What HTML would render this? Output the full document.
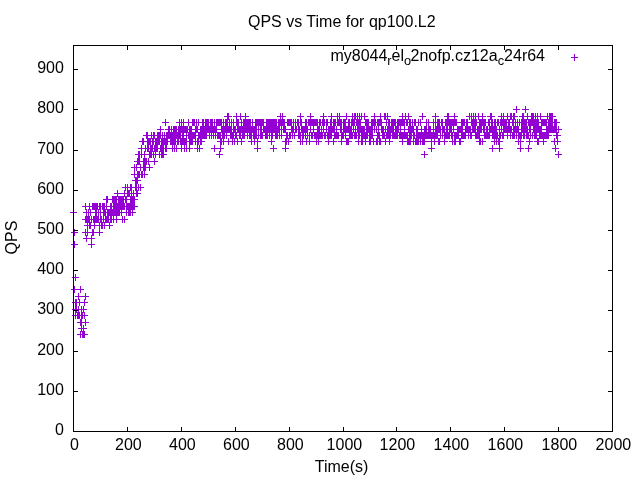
<!DOCTYPE html>
<html><head><meta charset="utf-8"><title>QPS vs Time for qp100.L2</title>
<style>
html,body{margin:0;padding:0;background:#fff;}
svg{display:block;font-family:"Liberation Sans",sans-serif;font-size:16px;fill:#000;will-change:transform;}
</style></head><body>
<svg width="640" height="480" viewBox="0 0 640 480">
<rect width="640" height="480" fill="#fff"/>
<text x="63.9" y="435.2" text-anchor="end">0</text>
<text x="63.9" y="395.2" text-anchor="end">100</text>
<text x="63.9" y="355.2" text-anchor="end">200</text>
<text x="63.9" y="314.2" text-anchor="end">300</text>
<text x="63.9" y="274.2" text-anchor="end">400</text>
<text x="63.9" y="234.2" text-anchor="end">500</text>
<text x="63.9" y="194.2" text-anchor="end">600</text>
<text x="63.9" y="154.2" text-anchor="end">700</text>
<text x="63.9" y="113.2" text-anchor="end">800</text>
<text x="63.9" y="73.2" text-anchor="end">900</text>
<text x="74.4" y="450" text-anchor="middle">0</text>
<text x="128.4" y="450" text-anchor="middle">200</text>
<text x="182.4" y="450" text-anchor="middle">400</text>
<text x="236.4" y="450" text-anchor="middle">600</text>
<text x="290.4" y="450" text-anchor="middle">800</text>
<text x="344.4" y="450" text-anchor="middle">1000</text>
<text x="397.4" y="450" text-anchor="middle">1200</text>
<text x="451.4" y="450" text-anchor="middle">1400</text>
<text x="505.4" y="450" text-anchor="middle">1600</text>
<text x="559.4" y="450" text-anchor="middle">1800</text>
<text x="613.4" y="450" text-anchor="middle">2000</text>
<text x="341.8" y="26.5" text-anchor="middle">QPS vs Time for qp100.L2</text>
<text x="341.6" y="472" text-anchor="middle">Time(s)</text>
<text transform="translate(17 237.6) rotate(-90)" text-anchor="middle">QPS</text>
<text x="545" y="61" text-anchor="end">my8044<tspan font-size="12.8" dy="3.8">r</tspan><tspan dy="-3.8">el</tspan><tspan font-size="12.8" dy="3.8">o</tspan><tspan dy="-3.8" dx="-0.7">2nofp.cz12a</tspan><tspan font-size="12.8" dy="3.8">c</tspan><tspan dy="-3.8">24r64</tspan></text>
<path id="pts" d="M73.5 209v7M70 212.5h7M74.5 229v7M71 232.5h7M74.5 241v7M71 244.5h7M74.5 286v7M71 289.5h7M75.5 274v7M72 277.5h7M75.5 299v7M72 302.5h7M75.5 306v7M72 309.5h7M75.5 312v7M72 315.5h7M76.5 299v7M73 302.5h7M76.5 306v7M73 309.5h7M77.5 312v7M74 315.5h7M78.5 293v7M75 296.5h7M78.5 306v7M75 309.5h7M78.5 312v7M75 315.5h7M79.5 299v7M76 302.5h7M79.5 312v7M76 315.5h7M80.5 286v7M77 289.5h7M80.5 319v7M77 322.5h7M80.5 331v7M77 334.5h7M81.5 306v7M78 309.5h7M81.5 312v7M78 315.5h7M81.5 319v7M78 322.5h7M81.5 325v7M78 328.5h7M82.5 312v7M79 315.5h7M82.5 331v7M79 334.5h7M83.5 306v7M80 309.5h7M83.5 325v7M80 328.5h7M83.5 331v7M80 334.5h7M84.5 299v7M81 302.5h7M84.5 312v7M81 315.5h7M84.5 331v7M81 334.5h7M85.5 203v7M82 206.5h7M85.5 216v7M82 219.5h7M85.5 229v7M82 232.5h7M85.5 293v7M82 296.5h7M85.5 319v7M82 322.5h7M86.5 209v7M83 212.5h7M86.5 216v7M83 219.5h7M86.5 235v7M83 238.5h7M87.5 216v7M84 219.5h7M87.5 222v7M84 225.5h7M87.5 229v7M84 232.5h7M88.5 209v7M85 212.5h7M88.5 216v7M85 219.5h7M89.5 203v7M86 206.5h7M89.5 216v7M86 219.5h7M89.5 222v7M86 225.5h7M90.5 209v7M87 212.5h7M90.5 222v7M87 225.5h7M91.5 216v7M88 219.5h7M91.5 235v7M88 238.5h7M91.5 241v7M88 244.5h7M92.5 203v7M89 206.5h7M92.5 229v7M89 232.5h7M93.5 203v7M90 206.5h7M93.5 216v7M90 219.5h7M93.5 229v7M90 232.5h7M94.5 203v7M91 206.5h7M94.5 216v7M91 219.5h7M94.5 222v7M91 225.5h7M95.5 203v7M92 206.5h7M95.5 209v7M92 212.5h7M95.5 216v7M92 219.5h7M96.5 203v7M93 206.5h7M96.5 209v7M93 212.5h7M96.5 216v7M93 219.5h7M97.5 203v7M94 206.5h7M97.5 216v7M94 219.5h7M98.5 209v7M95 212.5h7M98.5 216v7M95 219.5h7M99.5 203v7M96 206.5h7M99.5 222v7M96 225.5h7M99.5 229v7M96 232.5h7M100.5 203v7M97 206.5h7M100.5 209v7M97 212.5h7M100.5 216v7M97 219.5h7M101.5 216v7M98 219.5h7M101.5 222v7M98 225.5h7M102.5 203v7M99 206.5h7M102.5 222v7M99 225.5h7M103.5 203v7M100 206.5h7M103.5 209v7M100 212.5h7M103.5 216v7M100 219.5h7M104.5 203v7M101 206.5h7M104.5 209v7M101 212.5h7M104.5 222v7M101 225.5h7M105.5 209v7M102 212.5h7M105.5 216v7M102 219.5h7M106.5 196v7M103 199.5h7M106.5 203v7M103 206.5h7M106.5 216v7M103 219.5h7M107.5 196v7M104 199.5h7M107.5 209v7M104 212.5h7M107.5 216v7M104 219.5h7M108.5 209v7M105 212.5h7M108.5 216v7M105 219.5h7M109.5 209v7M106 212.5h7M109.5 222v7M106 225.5h7M110.5 203v7M107 206.5h7M110.5 209v7M107 212.5h7M110.5 216v7M107 219.5h7M111.5 203v7M108 206.5h7M111.5 209v7M108 212.5h7M111.5 216v7M108 219.5h7M112.5 196v7M109 199.5h7M112.5 209v7M109 212.5h7M113.5 196v7M110 199.5h7M113.5 203v7M110 206.5h7M113.5 209v7M110 212.5h7M113.5 216v7M110 219.5h7M114.5 196v7M111 199.5h7M114.5 203v7M111 206.5h7M114.5 209v7M111 212.5h7M115.5 196v7M112 199.5h7M115.5 203v7M112 206.5h7M115.5 209v7M112 212.5h7M116.5 196v7M113 199.5h7M116.5 203v7M113 206.5h7M116.5 209v7M113 212.5h7M116.5 216v7M113 219.5h7M117.5 190v7M114 193.5h7M117.5 203v7M114 206.5h7M117.5 209v7M114 212.5h7M118.5 196v7M115 199.5h7M118.5 203v7M115 206.5h7M118.5 209v7M115 212.5h7M119.5 196v7M116 199.5h7M119.5 203v7M116 206.5h7M119.5 209v7M116 212.5h7M120.5 196v7M117 199.5h7M120.5 203v7M117 206.5h7M121.5 196v7M118 199.5h7M121.5 203v7M118 206.5h7M121.5 209v7M118 212.5h7M122.5 196v7M119 199.5h7M122.5 203v7M119 206.5h7M122.5 216v7M119 219.5h7M123.5 196v7M120 199.5h7M123.5 203v7M120 206.5h7M124.5 190v7M121 193.5h7M124.5 203v7M121 206.5h7M124.5 216v7M121 219.5h7M125.5 184v7M122 187.5h7M125.5 196v7M122 199.5h7M126.5 196v7M123 199.5h7M126.5 203v7M123 206.5h7M126.5 209v7M123 212.5h7M127.5 184v7M124 187.5h7M127.5 190v7M124 193.5h7M127.5 203v7M124 206.5h7M128.5 190v7M125 193.5h7M128.5 203v7M125 206.5h7M128.5 209v7M125 212.5h7M129.5 190v7M126 193.5h7M129.5 203v7M126 206.5h7M129.5 209v7M126 212.5h7M130.5 184v7M127 187.5h7M130.5 196v7M127 199.5h7M130.5 203v7M127 206.5h7M130.5 209v7M127 212.5h7M131.5 184v7M128 187.5h7M131.5 190v7M128 193.5h7M131.5 196v7M128 199.5h7M131.5 203v7M128 206.5h7M132.5 196v7M129 199.5h7M132.5 203v7M129 206.5h7M132.5 209v7M129 212.5h7M133.5 190v7M130 193.5h7M133.5 196v7M130 199.5h7M133.5 203v7M130 206.5h7M134.5 164v7M131 167.5h7M134.5 171v7M131 174.5h7M134.5 196v7M131 199.5h7M134.5 203v7M131 206.5h7M135.5 177v7M132 180.5h7M135.5 184v7M132 187.5h7M136.5 164v7M133 167.5h7M136.5 177v7M133 180.5h7M136.5 184v7M133 187.5h7M136.5 190v7M133 193.5h7M137.5 158v7M134 161.5h7M137.5 171v7M134 174.5h7M137.5 177v7M134 180.5h7M137.5 190v7M134 193.5h7M138.5 151v7M135 154.5h7M138.5 158v7M135 161.5h7M138.5 171v7M135 174.5h7M138.5 184v7M135 187.5h7M139.5 151v7M136 154.5h7M139.5 158v7M136 161.5h7M139.5 171v7M136 174.5h7M140.5 164v7M137 167.5h7M140.5 184v7M137 187.5h7M141.5 145v7M138 148.5h7M141.5 151v7M138 154.5h7M141.5 171v7M138 174.5h7M142.5 138v7M139 141.5h7M142.5 171v7M139 174.5h7M143.5 138v7M140 141.5h7M143.5 158v7M140 161.5h7M143.5 164v7M140 167.5h7M144.5 151v7M141 154.5h7M144.5 158v7M141 161.5h7M144.5 164v7M141 167.5h7M144.5 171v7M141 174.5h7M145.5 145v7M142 148.5h7M145.5 158v7M142 161.5h7M145.5 164v7M142 167.5h7M146.5 132v7M143 135.5h7M146.5 158v7M143 161.5h7M147.5 132v7M144 135.5h7M147.5 138v7M144 141.5h7M147.5 145v7M144 148.5h7M148.5 138v7M145 141.5h7M148.5 145v7M145 148.5h7M148.5 158v7M145 161.5h7M149.5 138v7M146 141.5h7M149.5 151v7M146 154.5h7M149.5 164v7M146 167.5h7M150.5 138v7M147 141.5h7M150.5 145v7M147 148.5h7M150.5 151v7M147 154.5h7M151.5 132v7M148 135.5h7M151.5 145v7M148 148.5h7M151.5 151v7M148 154.5h7M152.5 138v7M149 141.5h7M152.5 145v7M149 148.5h7M153.5 132v7M150 135.5h7M153.5 138v7M150 141.5h7M153.5 151v7M150 154.5h7M154.5 132v7M151 135.5h7M154.5 145v7M151 148.5h7M154.5 158v7M151 161.5h7M155.5 138v7M152 141.5h7M155.5 145v7M152 148.5h7M155.5 151v7M152 154.5h7M156.5 138v7M153 141.5h7M156.5 145v7M153 148.5h7M157.5 132v7M154 135.5h7M157.5 138v7M154 141.5h7M157.5 145v7M154 148.5h7M158.5 132v7M155 135.5h7M158.5 138v7M155 141.5h7M159.5 132v7M156 135.5h7M159.5 138v7M156 141.5h7M159.5 151v7M156 154.5h7M160.5 126v7M157 129.5h7M160.5 132v7M157 135.5h7M160.5 145v7M157 148.5h7M161.5 138v7M158 141.5h7M161.5 145v7M158 148.5h7M161.5 151v7M158 154.5h7M162.5 132v7M159 135.5h7M162.5 138v7M159 141.5h7M162.5 145v7M159 148.5h7M162.5 151v7M159 154.5h7M163.5 138v7M160 141.5h7M163.5 145v7M160 148.5h7M163.5 151v7M160 154.5h7M164.5 132v7M161 135.5h7M164.5 138v7M161 141.5h7M165.5 119v7M162 122.5h7M165.5 138v7M162 141.5h7M165.5 145v7M162 148.5h7M166.5 132v7M163 135.5h7M166.5 138v7M163 141.5h7M166.5 145v7M163 148.5h7M167.5 132v7M164 135.5h7M167.5 138v7M164 141.5h7M168.5 126v7M165 129.5h7M168.5 132v7M165 135.5h7M169.5 126v7M166 129.5h7M169.5 132v7M166 135.5h7M170.5 132v7M167 135.5h7M170.5 138v7M167 141.5h7M171.5 126v7M168 129.5h7M171.5 132v7M168 135.5h7M171.5 138v7M168 141.5h7M172.5 132v7M169 135.5h7M172.5 138v7M169 141.5h7M172.5 145v7M169 148.5h7M173.5 126v7M170 129.5h7M173.5 132v7M170 135.5h7M173.5 138v7M170 141.5h7M174.5 126v7M171 129.5h7M174.5 132v7M171 135.5h7M174.5 138v7M171 141.5h7M174.5 145v7M171 148.5h7M175.5 126v7M172 129.5h7M175.5 132v7M172 135.5h7M175.5 138v7M172 141.5h7M176.5 126v7M173 129.5h7M176.5 132v7M173 135.5h7M176.5 145v7M173 148.5h7M177.5 132v7M174 135.5h7M177.5 138v7M174 141.5h7M178.5 126v7M175 129.5h7M178.5 132v7M175 135.5h7M178.5 138v7M175 141.5h7M179.5 119v7M176 122.5h7M179.5 126v7M176 129.5h7M179.5 132v7M176 135.5h7M180.5 126v7M177 129.5h7M180.5 132v7M177 135.5h7M180.5 138v7M177 141.5h7M181.5 119v7M178 122.5h7M181.5 126v7M178 129.5h7M181.5 138v7M178 141.5h7M181.5 145v7M178 148.5h7M182.5 126v7M179 129.5h7M182.5 132v7M179 135.5h7M182.5 138v7M179 141.5h7M183.5 119v7M180 122.5h7M183.5 126v7M180 129.5h7M183.5 132v7M180 135.5h7M183.5 138v7M180 141.5h7M184.5 126v7M181 129.5h7M184.5 138v7M181 141.5h7M184.5 145v7M181 148.5h7M185.5 126v7M182 129.5h7M185.5 138v7M182 141.5h7M186.5 126v7M183 129.5h7M186.5 132v7M183 135.5h7M186.5 138v7M183 141.5h7M186.5 145v7M183 148.5h7M187.5 126v7M184 129.5h7M188.5 119v7M185 122.5h7M188.5 132v7M185 135.5h7M189.5 126v7M186 129.5h7M189.5 132v7M186 135.5h7M189.5 138v7M186 141.5h7M189.5 145v7M186 148.5h7M190.5 126v7M187 129.5h7M190.5 132v7M187 135.5h7M190.5 138v7M187 141.5h7M191.5 126v7M188 129.5h7M191.5 132v7M188 135.5h7M191.5 138v7M188 141.5h7M192.5 119v7M189 122.5h7M192.5 132v7M189 135.5h7M192.5 138v7M189 141.5h7M193.5 119v7M190 122.5h7M193.5 132v7M190 135.5h7M194.5 119v7M191 122.5h7M194.5 132v7M191 135.5h7M195.5 126v7M192 129.5h7M195.5 132v7M192 135.5h7M195.5 138v7M192 141.5h7M196.5 119v7M193 122.5h7M196.5 126v7M193 129.5h7M197.5 126v7M194 129.5h7M197.5 138v7M194 141.5h7M197.5 145v7M194 148.5h7M198.5 119v7M195 122.5h7M198.5 132v7M195 135.5h7M198.5 138v7M195 141.5h7M199.5 132v7M196 135.5h7M199.5 145v7M196 148.5h7M200.5 126v7M197 129.5h7M200.5 132v7M197 135.5h7M200.5 138v7M197 141.5h7M201.5 126v7M198 129.5h7M201.5 132v7M198 135.5h7M201.5 138v7M198 141.5h7M202.5 119v7M199 122.5h7M202.5 126v7M199 129.5h7M202.5 132v7M199 135.5h7M203.5 119v7M200 122.5h7M203.5 126v7M200 129.5h7M203.5 132v7M200 135.5h7M204.5 126v7M201 129.5h7M204.5 132v7M201 135.5h7M205.5 119v7M202 122.5h7M205.5 126v7M202 129.5h7M205.5 132v7M202 135.5h7M206.5 119v7M203 122.5h7M206.5 126v7M203 129.5h7M206.5 132v7M203 135.5h7M207.5 119v7M204 122.5h7M207.5 126v7M204 129.5h7M208.5 119v7M205 122.5h7M208.5 126v7M205 129.5h7M209.5 126v7M206 129.5h7M209.5 132v7M206 135.5h7M210.5 119v7M207 122.5h7M210.5 126v7M207 129.5h7M211.5 119v7M208 122.5h7M211.5 126v7M208 129.5h7M211.5 132v7M208 135.5h7M212.5 119v7M209 122.5h7M212.5 126v7M209 129.5h7M213.5 126v7M210 129.5h7M213.5 132v7M210 135.5h7M214.5 119v7M211 122.5h7M214.5 126v7M211 129.5h7M214.5 145v7M211 148.5h7M215.5 126v7M212 129.5h7M215.5 132v7M212 135.5h7M216.5 119v7M213 122.5h7M216.5 126v7M213 129.5h7M217.5 119v7M214 122.5h7M217.5 132v7M214 135.5h7M218.5 119v7M215 122.5h7M218.5 132v7M215 135.5h7M219.5 119v7M216 122.5h7M219.5 132v7M216 135.5h7M219.5 151v7M216 154.5h7M220.5 119v7M217 122.5h7M220.5 132v7M217 135.5h7M220.5 138v7M217 141.5h7M220.5 145v7M217 148.5h7M221.5 119v7M218 122.5h7M221.5 126v7M218 129.5h7M221.5 138v7M218 141.5h7M222.5 126v7M219 129.5h7M222.5 132v7M219 135.5h7M223.5 119v7M220 122.5h7M223.5 126v7M220 129.5h7M223.5 132v7M220 135.5h7M223.5 138v7M220 141.5h7M224.5 126v7M221 129.5h7M224.5 132v7M221 135.5h7M225.5 119v7M222 122.5h7M225.5 126v7M222 129.5h7M226.5 119v7M223 122.5h7M226.5 126v7M223 129.5h7M226.5 132v7M223 135.5h7M227.5 113v7M224 116.5h7M227.5 119v7M224 122.5h7M227.5 126v7M224 129.5h7M228.5 113v7M225 116.5h7M228.5 126v7M225 129.5h7M228.5 138v7M225 141.5h7M229.5 119v7M226 122.5h7M229.5 126v7M226 129.5h7M230.5 126v7M227 129.5h7M230.5 132v7M227 135.5h7M231.5 119v7M228 122.5h7M231.5 126v7M228 129.5h7M231.5 132v7M228 135.5h7M232.5 132v7M229 135.5h7M232.5 138v7M229 141.5h7M233.5 119v7M230 122.5h7M233.5 126v7M230 129.5h7M233.5 132v7M230 135.5h7M234.5 126v7M231 129.5h7M234.5 138v7M231 141.5h7M235.5 126v7M232 129.5h7M235.5 132v7M232 135.5h7M236.5 113v7M233 116.5h7M236.5 119v7M233 122.5h7M236.5 132v7M233 135.5h7M237.5 119v7M234 122.5h7M237.5 126v7M234 129.5h7M237.5 138v7M234 141.5h7M238.5 119v7M235 122.5h7M238.5 126v7M235 129.5h7M239.5 126v7M236 129.5h7M239.5 132v7M236 135.5h7M240.5 113v7M237 116.5h7M240.5 126v7M237 129.5h7M240.5 132v7M237 135.5h7M241.5 119v7M238 122.5h7M241.5 126v7M238 129.5h7M241.5 138v7M238 141.5h7M242.5 126v7M239 129.5h7M242.5 132v7M239 135.5h7M243.5 119v7M240 122.5h7M243.5 126v7M240 129.5h7M243.5 132v7M240 135.5h7M244.5 119v7M241 122.5h7M244.5 126v7M241 129.5h7M244.5 132v7M241 135.5h7M245.5 113v7M242 116.5h7M245.5 119v7M242 122.5h7M245.5 126v7M242 129.5h7M246.5 119v7M243 122.5h7M246.5 126v7M243 129.5h7M247.5 119v7M244 122.5h7M247.5 126v7M244 129.5h7M247.5 132v7M244 135.5h7M248.5 119v7M245 122.5h7M248.5 126v7M245 129.5h7M249.5 119v7M246 122.5h7M249.5 126v7M246 129.5h7M249.5 132v7M246 135.5h7M250.5 119v7M247 122.5h7M250.5 126v7M247 129.5h7M250.5 132v7M247 135.5h7M251.5 126v7M248 129.5h7M251.5 132v7M248 135.5h7M251.5 138v7M248 141.5h7M252.5 119v7M249 122.5h7M252.5 126v7M249 129.5h7M253.5 126v7M250 129.5h7M253.5 132v7M250 135.5h7M254.5 126v7M251 129.5h7M254.5 132v7M251 135.5h7M254.5 138v7M251 141.5h7M255.5 119v7M252 122.5h7M255.5 126v7M252 129.5h7M255.5 132v7M252 135.5h7M256.5 119v7M253 122.5h7M256.5 126v7M253 129.5h7M256.5 132v7M253 135.5h7M257.5 119v7M254 122.5h7M257.5 138v7M254 141.5h7M257.5 145v7M254 148.5h7M258.5 119v7M255 122.5h7M258.5 126v7M255 129.5h7M258.5 132v7M255 135.5h7M259.5 119v7M256 122.5h7M260.5 119v7M257 122.5h7M260.5 126v7M257 129.5h7M260.5 132v7M257 135.5h7M261.5 119v7M258 122.5h7M261.5 126v7M258 129.5h7M261.5 132v7M258 135.5h7M262.5 119v7M259 122.5h7M262.5 132v7M259 135.5h7M263.5 119v7M260 122.5h7M263.5 126v7M260 129.5h7M264.5 126v7M261 129.5h7M265.5 126v7M262 129.5h7M265.5 132v7M262 135.5h7M266.5 119v7M263 122.5h7M266.5 126v7M263 129.5h7M266.5 132v7M263 135.5h7M267.5 119v7M264 122.5h7M267.5 126v7M264 129.5h7M267.5 132v7M264 135.5h7M268.5 119v7M265 122.5h7M268.5 126v7M265 129.5h7M269.5 119v7M266 122.5h7M269.5 126v7M266 129.5h7M269.5 132v7M266 135.5h7M270.5 119v7M267 122.5h7M270.5 126v7M267 129.5h7M271.5 119v7M268 122.5h7M271.5 126v7M268 129.5h7M271.5 132v7M268 135.5h7M271.5 138v7M268 141.5h7M272.5 119v7M269 122.5h7M272.5 126v7M269 129.5h7M272.5 132v7M269 135.5h7M273.5 119v7M270 122.5h7M273.5 126v7M270 129.5h7M273.5 145v7M270 148.5h7M274.5 119v7M271 122.5h7M274.5 126v7M271 129.5h7M275.5 119v7M272 122.5h7M275.5 126v7M272 129.5h7M275.5 132v7M272 135.5h7M276.5 119v7M273 122.5h7M276.5 126v7M273 129.5h7M276.5 132v7M273 135.5h7M277.5 126v7M274 129.5h7M277.5 132v7M274 135.5h7M278.5 119v7M275 122.5h7M278.5 126v7M275 129.5h7M279.5 119v7M276 122.5h7M279.5 126v7M276 129.5h7M279.5 132v7M276 135.5h7M280.5 113v7M277 116.5h7M280.5 119v7M277 122.5h7M281.5 119v7M278 122.5h7M281.5 126v7M278 129.5h7M281.5 132v7M278 135.5h7M282.5 113v7M279 116.5h7M282.5 119v7M279 122.5h7M283.5 119v7M280 122.5h7M283.5 126v7M280 129.5h7M284.5 119v7M281 122.5h7M284.5 126v7M281 129.5h7M285.5 126v7M282 129.5h7M285.5 138v7M282 141.5h7M285.5 145v7M282 148.5h7M286.5 132v7M283 135.5h7M286.5 138v7M283 141.5h7M287.5 119v7M284 122.5h7M287.5 132v7M284 135.5h7M288.5 119v7M285 122.5h7M288.5 138v7M285 141.5h7M289.5 119v7M286 122.5h7M289.5 132v7M286 135.5h7M290.5 119v7M287 122.5h7M290.5 132v7M287 135.5h7M291.5 119v7M288 122.5h7M291.5 126v7M288 129.5h7M292.5 126v7M289 129.5h7M292.5 132v7M289 135.5h7M293.5 119v7M290 122.5h7M293.5 126v7M290 129.5h7M294.5 132v7M291 135.5h7M295.5 119v7M292 122.5h7M295.5 126v7M292 129.5h7M296.5 126v7M293 129.5h7M297.5 119v7M294 122.5h7M298.5 119v7M295 122.5h7M298.5 126v7M295 129.5h7M298.5 132v7M295 135.5h7M299.5 126v7M296 129.5h7M299.5 132v7M296 135.5h7M300.5 113v7M297 116.5h7M300.5 119v7M297 122.5h7M300.5 132v7M297 135.5h7M300.5 138v7M297 141.5h7M301.5 119v7M298 122.5h7M301.5 126v7M298 129.5h7M302.5 126v7M299 129.5h7M302.5 132v7M299 135.5h7M302.5 138v7M299 141.5h7M303.5 126v7M300 129.5h7M303.5 132v7M300 135.5h7M304.5 126v7M301 129.5h7M305.5 119v7M302 122.5h7M305.5 126v7M302 129.5h7M305.5 132v7M302 135.5h7M306.5 119v7M303 122.5h7M306.5 126v7M303 129.5h7M306.5 138v7M303 141.5h7M307.5 126v7M304 129.5h7M307.5 132v7M304 135.5h7M308.5 119v7M305 122.5h7M309.5 119v7M306 122.5h7M309.5 132v7M306 135.5h7M309.5 138v7M306 141.5h7M310.5 113v7M307 116.5h7M310.5 119v7M307 122.5h7M310.5 126v7M307 129.5h7M311.5 119v7M308 122.5h7M311.5 132v7M308 135.5h7M312.5 119v7M309 122.5h7M312.5 132v7M309 135.5h7M313.5 119v7M310 122.5h7M313.5 126v7M310 129.5h7M314.5 119v7M311 122.5h7M314.5 132v7M311 135.5h7M315.5 119v7M312 122.5h7M315.5 132v7M312 135.5h7M316.5 119v7M313 122.5h7M316.5 132v7M313 135.5h7M316.5 138v7M313 141.5h7M317.5 119v7M314 122.5h7M317.5 126v7M314 129.5h7M317.5 132v7M314 135.5h7M318.5 126v7M315 129.5h7M318.5 132v7M315 135.5h7M318.5 138v7M315 141.5h7M319.5 119v7M316 122.5h7M319.5 126v7M316 129.5h7M319.5 132v7M316 135.5h7M320.5 119v7M317 122.5h7M320.5 132v7M317 135.5h7M321.5 126v7M318 129.5h7M321.5 132v7M318 135.5h7M322.5 119v7M319 122.5h7M322.5 132v7M319 135.5h7M323.5 113v7M320 116.5h7M323.5 119v7M320 122.5h7M323.5 126v7M320 129.5h7M324.5 119v7M321 122.5h7M324.5 132v7M321 135.5h7M325.5 132v7M322 135.5h7M326.5 119v7M323 122.5h7M326.5 126v7M323 129.5h7M327.5 119v7M324 122.5h7M327.5 132v7M324 135.5h7M328.5 126v7M325 129.5h7M328.5 132v7M325 135.5h7M328.5 138v7M325 141.5h7M329.5 126v7M326 129.5h7M329.5 132v7M326 135.5h7M330.5 119v7M327 122.5h7M330.5 126v7M327 129.5h7M330.5 132v7M327 135.5h7M331.5 113v7M328 116.5h7M331.5 119v7M328 122.5h7M331.5 126v7M328 129.5h7M331.5 132v7M328 135.5h7M332.5 126v7M329 129.5h7M333.5 119v7M330 122.5h7M333.5 126v7M330 129.5h7M333.5 138v7M330 141.5h7M334.5 119v7M331 122.5h7M334.5 126v7M331 129.5h7M334.5 132v7M331 135.5h7M335.5 119v7M332 122.5h7M335.5 132v7M332 135.5h7M336.5 126v7M333 129.5h7M336.5 132v7M333 135.5h7M337.5 113v7M334 116.5h7M337.5 119v7M334 122.5h7M337.5 132v7M334 135.5h7M338.5 119v7M335 122.5h7M338.5 132v7M335 135.5h7M339.5 113v7M336 116.5h7M339.5 119v7M336 122.5h7M340.5 119v7M337 122.5h7M340.5 126v7M337 129.5h7M341.5 119v7M338 122.5h7M341.5 126v7M338 129.5h7M341.5 132v7M338 135.5h7M341.5 138v7M338 141.5h7M342.5 132v7M339 135.5h7M343.5 119v7M340 122.5h7M343.5 126v7M340 129.5h7M343.5 132v7M340 135.5h7M344.5 119v7M341 122.5h7M344.5 126v7M341 129.5h7M345.5 119v7M342 122.5h7M345.5 126v7M342 129.5h7M345.5 132v7M342 135.5h7M346.5 113v7M343 116.5h7M346.5 126v7M343 129.5h7M346.5 138v7M343 141.5h7M347.5 126v7M344 129.5h7M347.5 138v7M344 141.5h7M348.5 119v7M345 122.5h7M348.5 126v7M345 129.5h7M348.5 138v7M345 141.5h7M349.5 119v7M346 122.5h7M349.5 126v7M346 129.5h7M349.5 132v7M346 135.5h7M350.5 126v7M347 129.5h7M350.5 132v7M347 135.5h7M351.5 119v7M348 122.5h7M351.5 126v7M348 129.5h7M351.5 132v7M348 135.5h7M352.5 113v7M349 116.5h7M352.5 119v7M349 122.5h7M352.5 132v7M349 135.5h7M353.5 119v7M350 122.5h7M353.5 126v7M350 129.5h7M354.5 113v7M351 116.5h7M354.5 119v7M351 122.5h7M354.5 132v7M351 135.5h7M355.5 113v7M352 116.5h7M355.5 126v7M352 129.5h7M355.5 132v7M352 135.5h7M356.5 119v7M353 122.5h7M356.5 132v7M353 135.5h7M357.5 113v7M354 116.5h7M357.5 119v7M354 122.5h7M357.5 126v7M354 129.5h7M358.5 119v7M355 122.5h7M358.5 126v7M355 129.5h7M358.5 132v7M355 135.5h7M358.5 138v7M355 141.5h7M359.5 113v7M356 116.5h7M359.5 119v7M356 122.5h7M359.5 126v7M356 129.5h7M359.5 132v7M356 135.5h7M360.5 119v7M357 122.5h7M360.5 126v7M357 129.5h7M361.5 113v7M358 116.5h7M361.5 126v7M358 129.5h7M361.5 132v7M358 135.5h7M361.5 138v7M358 141.5h7M362.5 126v7M359 129.5h7M362.5 132v7M359 135.5h7M362.5 138v7M359 141.5h7M363.5 126v7M360 129.5h7M363.5 132v7M360 135.5h7M364.5 113v7M361 116.5h7M364.5 126v7M361 129.5h7M364.5 132v7M361 135.5h7M365.5 119v7M362 122.5h7M365.5 132v7M362 135.5h7M365.5 138v7M362 141.5h7M366.5 119v7M363 122.5h7M366.5 126v7M363 129.5h7M366.5 132v7M363 135.5h7M367.5 119v7M364 122.5h7M367.5 126v7M364 129.5h7M367.5 132v7M364 135.5h7M368.5 119v7M365 122.5h7M368.5 126v7M365 129.5h7M369.5 126v7M366 129.5h7M369.5 132v7M366 135.5h7M369.5 138v7M366 141.5h7M370.5 126v7M367 129.5h7M370.5 132v7M367 135.5h7M370.5 138v7M367 141.5h7M371.5 119v7M368 122.5h7M371.5 126v7M368 129.5h7M371.5 132v7M368 135.5h7M372.5 119v7M369 122.5h7M372.5 126v7M369 129.5h7M372.5 132v7M369 135.5h7M373.5 119v7M370 122.5h7M373.5 138v7M370 141.5h7M374.5 113v7M371 116.5h7M374.5 119v7M371 122.5h7M374.5 126v7M371 129.5h7M375.5 119v7M372 122.5h7M376.5 126v7M373 129.5h7M376.5 138v7M373 141.5h7M377.5 119v7M374 122.5h7M377.5 132v7M374 135.5h7M377.5 138v7M374 141.5h7M378.5 119v7M375 122.5h7M378.5 126v7M375 129.5h7M378.5 132v7M375 135.5h7M379.5 119v7M376 122.5h7M379.5 132v7M376 135.5h7M379.5 138v7M376 141.5h7M380.5 113v7M377 116.5h7M380.5 119v7M377 122.5h7M380.5 138v7M377 141.5h7M381.5 119v7M378 122.5h7M381.5 126v7M378 129.5h7M382.5 126v7M379 129.5h7M382.5 132v7M379 135.5h7M383.5 126v7M380 129.5h7M383.5 132v7M380 135.5h7M384.5 113v7M381 116.5h7M384.5 132v7M381 135.5h7M385.5 113v7M382 116.5h7M385.5 126v7M382 129.5h7M385.5 138v7M382 141.5h7M386.5 119v7M383 122.5h7M386.5 132v7M383 135.5h7M387.5 113v7M384 116.5h7M387.5 126v7M384 129.5h7M387.5 132v7M384 135.5h7M388.5 119v7M385 122.5h7M388.5 126v7M385 129.5h7M388.5 132v7M385 135.5h7M389.5 119v7M386 122.5h7M389.5 126v7M386 129.5h7M389.5 132v7M386 135.5h7M389.5 138v7M386 141.5h7M390.5 126v7M387 129.5h7M390.5 132v7M387 135.5h7M391.5 119v7M388 122.5h7M391.5 126v7M388 129.5h7M392.5 119v7M389 122.5h7M392.5 126v7M389 129.5h7M392.5 132v7M389 135.5h7M393.5 119v7M390 122.5h7M393.5 126v7M390 129.5h7M393.5 132v7M390 135.5h7M394.5 119v7M391 122.5h7M394.5 132v7M391 135.5h7M395.5 119v7M392 122.5h7M395.5 126v7M392 129.5h7M395.5 132v7M392 135.5h7M396.5 126v7M393 129.5h7M396.5 132v7M393 135.5h7M397.5 119v7M394 122.5h7M397.5 126v7M394 129.5h7M397.5 132v7M394 135.5h7M398.5 119v7M395 122.5h7M398.5 126v7M395 129.5h7M399.5 119v7M396 122.5h7M399.5 132v7M396 135.5h7M400.5 119v7M397 122.5h7M400.5 126v7M397 129.5h7M400.5 132v7M397 135.5h7M401.5 119v7M398 122.5h7M401.5 132v7M398 135.5h7M402.5 113v7M399 116.5h7M402.5 119v7M399 122.5h7M402.5 132v7M399 135.5h7M402.5 138v7M399 141.5h7M403.5 119v7M400 122.5h7M403.5 132v7M400 135.5h7M404.5 119v7M401 122.5h7M404.5 126v7M401 129.5h7M404.5 132v7M401 135.5h7M405.5 113v7M402 116.5h7M405.5 132v7M402 135.5h7M406.5 119v7M403 122.5h7M406.5 132v7M403 135.5h7M407.5 119v7M404 122.5h7M407.5 132v7M404 135.5h7M407.5 138v7M404 141.5h7M408.5 113v7M405 116.5h7M408.5 126v7M405 129.5h7M408.5 138v7M405 141.5h7M409.5 119v7M406 122.5h7M409.5 126v7M406 129.5h7M409.5 132v7M406 135.5h7M409.5 138v7M406 141.5h7M410.5 119v7M407 122.5h7M410.5 126v7M407 129.5h7M410.5 132v7M407 135.5h7M410.5 138v7M407 141.5h7M411.5 126v7M408 129.5h7M411.5 132v7M408 135.5h7M412.5 119v7M409 122.5h7M412.5 126v7M409 129.5h7M413.5 126v7M410 129.5h7M413.5 132v7M410 135.5h7M413.5 138v7M410 141.5h7M414.5 119v7M411 122.5h7M414.5 132v7M411 135.5h7M415.5 119v7M412 122.5h7M415.5 138v7M412 141.5h7M416.5 126v7M413 129.5h7M416.5 132v7M413 135.5h7M416.5 138v7M413 141.5h7M417.5 126v7M414 129.5h7M417.5 132v7M414 135.5h7M417.5 138v7M414 141.5h7M418.5 119v7M415 122.5h7M418.5 132v7M415 135.5h7M418.5 138v7M415 141.5h7M419.5 132v7M416 135.5h7M420.5 119v7M417 122.5h7M420.5 132v7M417 135.5h7M420.5 138v7M417 141.5h7M421.5 126v7M418 129.5h7M421.5 132v7M418 135.5h7M422.5 113v7M419 116.5h7M422.5 132v7M419 135.5h7M422.5 138v7M419 141.5h7M423.5 132v7M420 135.5h7M423.5 138v7M420 141.5h7M424.5 126v7M421 129.5h7M424.5 132v7M421 135.5h7M424.5 138v7M421 141.5h7M424.5 151v7M421 154.5h7M425.5 126v7M422 129.5h7M425.5 132v7M422 135.5h7M426.5 119v7M423 122.5h7M426.5 126v7M423 129.5h7M426.5 132v7M423 135.5h7M427.5 132v7M424 135.5h7M428.5 119v7M425 122.5h7M428.5 126v7M425 129.5h7M428.5 132v7M425 135.5h7M429.5 126v7M426 129.5h7M429.5 132v7M426 135.5h7M430.5 126v7M427 129.5h7M430.5 132v7M427 135.5h7M431.5 132v7M428 135.5h7M431.5 138v7M428 141.5h7M431.5 145v7M428 148.5h7M432.5 132v7M429 135.5h7M433.5 119v7M430 122.5h7M433.5 126v7M430 129.5h7M433.5 132v7M430 135.5h7M434.5 132v7M431 135.5h7M434.5 138v7M431 141.5h7M435.5 113v7M432 116.5h7M435.5 119v7M432 122.5h7M435.5 126v7M432 129.5h7M435.5 132v7M432 135.5h7M436.5 126v7M433 129.5h7M436.5 132v7M433 135.5h7M437.5 119v7M434 122.5h7M437.5 126v7M434 129.5h7M437.5 132v7M434 135.5h7M438.5 119v7M435 122.5h7M438.5 126v7M435 129.5h7M438.5 138v7M435 141.5h7M439.5 119v7M436 122.5h7M439.5 126v7M436 129.5h7M439.5 138v7M436 141.5h7M440.5 126v7M437 129.5h7M440.5 132v7M437 135.5h7M441.5 119v7M438 122.5h7M442.5 119v7M439 122.5h7M442.5 126v7M439 129.5h7M442.5 132v7M439 135.5h7M443.5 126v7M440 129.5h7M444.5 126v7M441 129.5h7M444.5 132v7M441 135.5h7M444.5 138v7M441 141.5h7M445.5 119v7M442 122.5h7M445.5 132v7M442 135.5h7M446.5 119v7M443 122.5h7M446.5 126v7M443 129.5h7M446.5 132v7M443 135.5h7M447.5 113v7M444 116.5h7M447.5 119v7M444 122.5h7M447.5 126v7M444 129.5h7M447.5 132v7M444 135.5h7M448.5 113v7M445 116.5h7M448.5 119v7M445 122.5h7M448.5 132v7M445 135.5h7M449.5 119v7M446 122.5h7M449.5 126v7M446 129.5h7M449.5 132v7M446 135.5h7M450.5 119v7M447 122.5h7M450.5 126v7M447 129.5h7M451.5 119v7M448 122.5h7M451.5 126v7M448 129.5h7M451.5 132v7M448 135.5h7M452.5 119v7M449 122.5h7M452.5 132v7M449 135.5h7M452.5 138v7M449 141.5h7M453.5 119v7M450 122.5h7M453.5 126v7M450 129.5h7M454.5 113v7M451 116.5h7M454.5 119v7M451 122.5h7M454.5 132v7M451 135.5h7M454.5 138v7M451 141.5h7M455.5 119v7M452 122.5h7M455.5 132v7M452 135.5h7M455.5 138v7M452 141.5h7M456.5 119v7M453 122.5h7M456.5 132v7M453 135.5h7M457.5 126v7M454 129.5h7M457.5 132v7M454 135.5h7M458.5 126v7M455 129.5h7M458.5 132v7M455 135.5h7M459.5 126v7M456 129.5h7M459.5 138v7M456 141.5h7M460.5 126v7M457 129.5h7M460.5 138v7M457 141.5h7M461.5 119v7M458 122.5h7M461.5 126v7M458 129.5h7M461.5 132v7M458 135.5h7M462.5 119v7M459 122.5h7M462.5 126v7M459 129.5h7M462.5 132v7M459 135.5h7M463.5 119v7M460 122.5h7M463.5 132v7M460 135.5h7M464.5 119v7M461 122.5h7M464.5 132v7M461 135.5h7M465.5 126v7M462 129.5h7M465.5 132v7M462 135.5h7M466.5 119v7M463 122.5h7M466.5 126v7M463 129.5h7M467.5 119v7M464 122.5h7M467.5 126v7M464 129.5h7M468.5 126v7M465 129.5h7M468.5 132v7M465 135.5h7M469.5 113v7M466 116.5h7M469.5 126v7M466 129.5h7M470.5 126v7M467 129.5h7M470.5 132v7M467 135.5h7M471.5 113v7M468 116.5h7M471.5 119v7M468 122.5h7M471.5 132v7M468 135.5h7M472.5 119v7M469 122.5h7M472.5 126v7M469 129.5h7M473.5 113v7M470 116.5h7M473.5 119v7M470 122.5h7M473.5 126v7M470 129.5h7M474.5 119v7M471 122.5h7M474.5 126v7M471 129.5h7M475.5 113v7M472 116.5h7M475.5 119v7M472 122.5h7M475.5 126v7M472 129.5h7M475.5 132v7M472 135.5h7M476.5 119v7M473 122.5h7M476.5 132v7M473 135.5h7M477.5 126v7M474 129.5h7M477.5 132v7M474 135.5h7M478.5 113v7M475 116.5h7M478.5 126v7M475 129.5h7M478.5 132v7M475 135.5h7M479.5 119v7M476 122.5h7M479.5 126v7M476 129.5h7M479.5 132v7M476 135.5h7M479.5 138v7M476 141.5h7M480.5 119v7M477 122.5h7M480.5 126v7M477 129.5h7M480.5 138v7M477 141.5h7M481.5 119v7M478 122.5h7M481.5 126v7M478 129.5h7M482.5 113v7M479 116.5h7M482.5 119v7M479 122.5h7M482.5 138v7M479 141.5h7M483.5 119v7M480 122.5h7M483.5 126v7M480 129.5h7M484.5 119v7M481 122.5h7M484.5 126v7M481 129.5h7M484.5 132v7M481 135.5h7M485.5 119v7M482 122.5h7M485.5 132v7M482 135.5h7M486.5 126v7M483 129.5h7M486.5 132v7M483 135.5h7M487.5 126v7M484 129.5h7M487.5 132v7M484 135.5h7M488.5 119v7M485 122.5h7M488.5 132v7M485 135.5h7M489.5 119v7M486 122.5h7M489.5 126v7M486 129.5h7M489.5 132v7M486 135.5h7M490.5 113v7M487 116.5h7M490.5 126v7M487 129.5h7M491.5 113v7M488 116.5h7M491.5 119v7M488 122.5h7M491.5 126v7M488 129.5h7M492.5 119v7M489 122.5h7M492.5 126v7M489 129.5h7M492.5 132v7M489 135.5h7M492.5 145v7M489 148.5h7M493.5 126v7M490 129.5h7M493.5 132v7M490 135.5h7M494.5 119v7M491 122.5h7M494.5 126v7M491 129.5h7M494.5 132v7M491 135.5h7M494.5 138v7M491 141.5h7M495.5 119v7M492 122.5h7M495.5 126v7M492 129.5h7M495.5 132v7M492 135.5h7M496.5 126v7M493 129.5h7M496.5 132v7M493 135.5h7M496.5 138v7M493 141.5h7M497.5 119v7M494 122.5h7M497.5 132v7M494 135.5h7M498.5 119v7M495 122.5h7M498.5 138v7M495 141.5h7M499.5 126v7M496 129.5h7M499.5 132v7M496 135.5h7M499.5 138v7M496 141.5h7M499.5 145v7M496 148.5h7M500.5 119v7M497 122.5h7M500.5 132v7M497 135.5h7M501.5 113v7M498 116.5h7M501.5 119v7M498 122.5h7M501.5 126v7M498 129.5h7M502.5 119v7M499 122.5h7M502.5 132v7M499 135.5h7M503.5 113v7M500 116.5h7M503.5 119v7M500 122.5h7M503.5 126v7M500 129.5h7M503.5 132v7M500 135.5h7M504.5 119v7M501 122.5h7M504.5 126v7M501 129.5h7M505.5 119v7M502 122.5h7M505.5 126v7M502 129.5h7M506.5 119v7M503 122.5h7M506.5 126v7M503 129.5h7M507.5 113v7M504 116.5h7M507.5 126v7M504 129.5h7M507.5 132v7M504 135.5h7M508.5 119v7M505 122.5h7M508.5 126v7M505 129.5h7M509.5 119v7M506 122.5h7M509.5 126v7M506 129.5h7M510.5 113v7M507 116.5h7M510.5 126v7M507 129.5h7M510.5 132v7M507 135.5h7M511.5 113v7M508 116.5h7M511.5 126v7M508 129.5h7M512.5 119v7M509 122.5h7M512.5 132v7M509 135.5h7M513.5 113v7M510 116.5h7M513.5 119v7M510 122.5h7M513.5 126v7M510 129.5h7M513.5 132v7M510 135.5h7M514.5 113v7M511 116.5h7M514.5 126v7M511 129.5h7M514.5 132v7M511 135.5h7M515.5 119v7M512 122.5h7M515.5 126v7M512 129.5h7M516.5 106v7M513 109.5h7M516.5 126v7M513 129.5h7M516.5 132v7M513 135.5h7M517.5 119v7M514 122.5h7M517.5 126v7M514 129.5h7M518.5 126v7M515 129.5h7M518.5 132v7M515 135.5h7M518.5 138v7M515 141.5h7M519.5 119v7M516 122.5h7M519.5 132v7M516 135.5h7M520.5 132v7M517 135.5h7M520.5 138v7M517 141.5h7M520.5 145v7M517 148.5h7M521.5 119v7M518 122.5h7M521.5 126v7M518 129.5h7M521.5 132v7M518 135.5h7M522.5 113v7M519 116.5h7M522.5 119v7M519 122.5h7M522.5 126v7M519 129.5h7M523.5 113v7M520 116.5h7M523.5 119v7M520 122.5h7M523.5 126v7M520 129.5h7M523.5 132v7M520 135.5h7M524.5 119v7M521 122.5h7M524.5 126v7M521 129.5h7M524.5 132v7M521 135.5h7M525.5 106v7M522 109.5h7M525.5 119v7M522 122.5h7M525.5 126v7M522 129.5h7M526.5 119v7M523 122.5h7M526.5 126v7M523 129.5h7M526.5 132v7M523 135.5h7M527.5 113v7M524 116.5h7M527.5 126v7M524 129.5h7M527.5 132v7M524 135.5h7M528.5 119v7M525 122.5h7M528.5 132v7M525 135.5h7M528.5 145v7M525 148.5h7M529.5 119v7M526 122.5h7M529.5 126v7M526 129.5h7M529.5 138v7M526 141.5h7M530.5 119v7M527 122.5h7M530.5 126v7M527 129.5h7M530.5 132v7M527 135.5h7M531.5 113v7M528 116.5h7M531.5 119v7M528 122.5h7M532.5 113v7M529 116.5h7M532.5 119v7M529 122.5h7M532.5 132v7M529 135.5h7M533.5 113v7M530 116.5h7M533.5 119v7M530 122.5h7M533.5 126v7M530 129.5h7M534.5 119v7M531 122.5h7M534.5 126v7M531 129.5h7M534.5 132v7M531 135.5h7M535.5 113v7M532 116.5h7M535.5 119v7M532 122.5h7M535.5 126v7M532 129.5h7M535.5 132v7M532 135.5h7M536.5 119v7M533 122.5h7M536.5 126v7M533 129.5h7M536.5 132v7M533 135.5h7M537.5 113v7M534 116.5h7M537.5 119v7M534 122.5h7M537.5 126v7M534 129.5h7M537.5 138v7M534 141.5h7M538.5 119v7M535 122.5h7M538.5 126v7M535 129.5h7M538.5 138v7M535 141.5h7M539.5 126v7M536 129.5h7M539.5 132v7M536 135.5h7M540.5 113v7M537 116.5h7M540.5 126v7M537 129.5h7M540.5 132v7M537 135.5h7M541.5 119v7M538 122.5h7M541.5 126v7M538 129.5h7M541.5 132v7M538 135.5h7M542.5 119v7M539 122.5h7M542.5 132v7M539 135.5h7M543.5 119v7M540 122.5h7M543.5 132v7M540 135.5h7M543.5 138v7M540 141.5h7M544.5 119v7M541 122.5h7M544.5 132v7M541 135.5h7M545.5 119v7M542 122.5h7M545.5 132v7M542 135.5h7M546.5 119v7M543 122.5h7M546.5 126v7M543 129.5h7M546.5 132v7M543 135.5h7M547.5 113v7M544 116.5h7M547.5 126v7M544 129.5h7M547.5 132v7M544 135.5h7M548.5 119v7M545 122.5h7M548.5 126v7M545 129.5h7M548.5 132v7M545 135.5h7M549.5 113v7M546 116.5h7M549.5 119v7M546 122.5h7M549.5 126v7M546 129.5h7M550.5 113v7M547 116.5h7M550.5 119v7M547 122.5h7M550.5 126v7M547 129.5h7M551.5 113v7M548 116.5h7M551.5 119v7M548 122.5h7M551.5 126v7M548 129.5h7M552.5 113v7M549 116.5h7M552.5 119v7M549 122.5h7M552.5 126v7M549 129.5h7M553.5 126v7M550 129.5h7M554.5 119v7M551 122.5h7M554.5 126v7M551 129.5h7M554.5 138v7M551 141.5h7M555.5 119v7M552 122.5h7M555.5 126v7M552 129.5h7M555.5 145v7M552 148.5h7M556.5 119v7M553 122.5h7M556.5 126v7M553 129.5h7M556.5 132v7M553 135.5h7M557.5 132v7M554 135.5h7M557.5 138v7M554 141.5h7M558.5 126v7M555 129.5h7M558.5 151v7M555 154.5h7M574.5 54v7M571 57.5h7" stroke="#9400d3" stroke-width="1" fill="none" shape-rendering="crispEdges"/>
<path d="M73.5 431.5v-4.5M73.5 45.5v4.5M127.5 431.5v-4.5M127.5 45.5v4.5M181.5 431.5v-4.5M181.5 45.5v4.5M235.5 431.5v-4.5M235.5 45.5v4.5M289.5 431.5v-4.5M289.5 45.5v4.5M343.5 431.5v-4.5M343.5 45.5v4.5M396.5 431.5v-4.5M396.5 45.5v4.5M450.5 431.5v-4.5M450.5 45.5v4.5M504.5 431.5v-4.5M504.5 45.5v4.5M558.5 431.5v-4.5M558.5 45.5v4.5M612.5 431.5v-4.5M612.5 45.5v4.5M73.5 431.5h4.5M612.5 431.5h-4.5M73.5 391.5h4.5M612.5 391.5h-4.5M73.5 351.5h4.5M612.5 351.5h-4.5M73.5 310.5h4.5M612.5 310.5h-4.5M73.5 270.5h4.5M612.5 270.5h-4.5M73.5 230.5h4.5M612.5 230.5h-4.5M73.5 190.5h4.5M612.5 190.5h-4.5M73.5 150.5h4.5M612.5 150.5h-4.5M73.5 109.5h4.5M612.5 109.5h-4.5M73.5 69.5h4.5M612.5 69.5h-4.5" stroke="#000" stroke-width="1" fill="none" shape-rendering="crispEdges"/>
<rect x="73.5" y="45.5" width="539.0" height="386.0" fill="none" stroke="#000" stroke-width="1" shape-rendering="crispEdges"/>
</svg>
</body></html>
